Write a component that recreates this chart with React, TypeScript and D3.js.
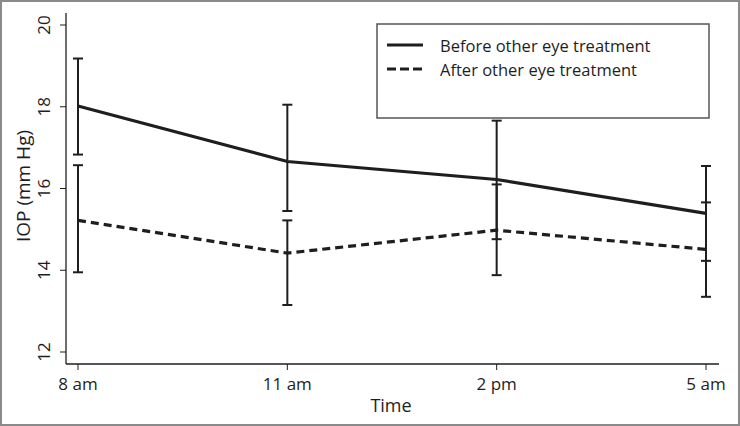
import React, { useEffect, useRef } from 'react'
import * as d3 from 'd3'

const times = ['8 am', '11 am', '2 pm', '5 am']
const yTicks = [12, 14, 16, 18, 20]

const beforeMean = [18.02, 16.66, 16.22, 15.39]
const beforeLow = [16.83, 15.45, 14.76, 14.23]
const beforeHigh = [19.18, 18.05, 17.66, 16.55]

const afterMean = [15.22, 14.42, 14.98, 14.51]
const afterLow = [13.95, 13.15, 13.88, 13.35]
const afterHigh = [16.57, 15.22, 16.1, 15.66]

const seriesNames = ['Before other eye treatment', 'After other eye treatment']

const FONT = '"Open Sans", "Noto Sans", sans-serif'

const App = () => {
  const ref = useRef<SVGSVGElement | null>(null)

  useEffect(() => {
    if (!ref.current) return
    const width = 740
    const height = 426
    const svg = d3.select(ref.current)
    svg.selectAll('*').remove()

    const x = d3.scalePoint<string>().domain(times).range([78, 706])
    const y = d3.scaleLinear().domain([12, 20]).range([352, 25])
    const ink = '#1e1e1e'

    svg.append('rect')
        .attr('x', 1).attr('y', 1)
        .attr('width', width - 2).attr('height', height - 2)
        .attr('fill', 'white')
        .attr('stroke', '#8a8a8a')
        .attr('stroke-width', 2)

    // axes
    svg.append('line')
        .attr('x1', 66).attr('x2', 66).attr('y1', 13).attr('y2', 364)
        .attr('stroke', ink).attr('stroke-width', 1.3)
    svg.append('line')
        .attr('x1', 66).attr('x2', 719).attr('y1', 364).attr('y2', 364)
        .attr('stroke', ink).attr('stroke-width', 1.3)

    const yt = svg.append('g')
    yTicks.forEach(t => {
      yt.append('line')
          .attr('x1', 60).attr('x2', 66).attr('y1', y(t)).attr('y2', y(t))
          .attr('stroke', ink).attr('stroke-width', 1)
      yt.append('text')
          .attr('transform', `translate(43,${y(t)}) rotate(-90)`)
          .attr('text-anchor', 'middle')
          .attr('dominant-baseline', 'central')
          .style('font-family', FONT)
          .style('font-size', '17px')
          .style('fill', ink)
          .text(t)
    })

    times.forEach(t => {
      svg.append('line')
          .attr('x1', x(t)!).attr('x2', x(t)!).attr('y1', 364).attr('y2', 370)
          .attr('stroke', ink).attr('stroke-width', 1)
      svg.append('text')
          .attr('x', x(t)!).attr('y', 383)
          .attr('text-anchor', 'middle')
          .attr('dominant-baseline', 'central')
          .style('font-family', FONT)
          .style('font-size', '17px')
          .style('fill', ink)
          .text(t)
    })

    svg.append('text')
        .attr('x', 391).attr('y', 405)
        .attr('text-anchor', 'middle')
        .attr('dominant-baseline', 'central')
        .style('font-family', FONT)
        .style('font-size', '18px')
        .style('fill', ink)
        .text('Time')

    svg.append('text')
        .attr('transform', 'translate(23,186) rotate(-90)')
        .attr('text-anchor', 'middle')
        .attr('dominant-baseline', 'central')
        .style('font-family', FONT)
        .style('font-size', '19px')
        .style('fill', ink)
        .text('IOP (mm Hg)')

    // error bars
    const drawErr = (lo: number[], hi: number[]) => {
      times.forEach((t, i) => {
        const cx = x(t)!
        svg.append('line')
            .attr('x1', cx).attr('x2', cx).attr('y1', y(lo[i])).attr('y2', y(hi[i]))
            .attr('stroke', ink).attr('stroke-width', 2)
        ;[lo[i], hi[i]].forEach(v => {
          svg.append('line')
              .attr('x1', cx - 5).attr('x2', cx + 5).attr('y1', y(v)).attr('y2', y(v))
              .attr('stroke', ink).attr('stroke-width', 2)
        })
      })
    }
    drawErr(beforeLow, beforeHigh)
    drawErr(afterLow, afterHigh)

    const line = d3.line<number>()
        .x((d, i) => x(times[i])!)
        .y(d => y(d))

    svg.append('path')
        .attr('d', line(beforeMean))
        .attr('fill', 'none')
        .attr('stroke', ink)
        .attr('stroke-width', 3.2)

    svg.append('path')
        .attr('d', line(afterMean))
        .attr('fill', 'none')
        .attr('stroke', ink)
        .attr('stroke-width', 3.2)
        .attr('stroke-dasharray', '8,5')

    // legend
    svg.append('rect')
        .attr('x', 377).attr('y', 24)
        .attr('width', 332).attr('height', 94)
        .attr('fill', 'white')
        .attr('stroke', '#555')
        .attr('stroke-width', 1.5)

    seriesNames.forEach((name, i) => {
      const ly = 45 + i * 24
      svg.append('line')
          .attr('x1', 387).attr('x2', 423).attr('y1', ly).attr('y2', ly)
          .attr('stroke', ink).attr('stroke-width', 3)
          .attr('stroke-dasharray', i === 1 ? '9,4' : null)
      svg.append('text')
          .attr('x', 440).attr('y', ly)
          .attr('dominant-baseline', 'central')
          .style('font-family', FONT)
          .style('font-size', '16.5px')
          .style('fill', ink)
          .text(name)
    })
  }, [])

  return (
      <div style={{ position: 'fixed', left: 0, top: 0 }}>
        <svg ref={ref} width={740} height={426} style={{ display: 'block' }} />
      </div>
  )
}

export default App
